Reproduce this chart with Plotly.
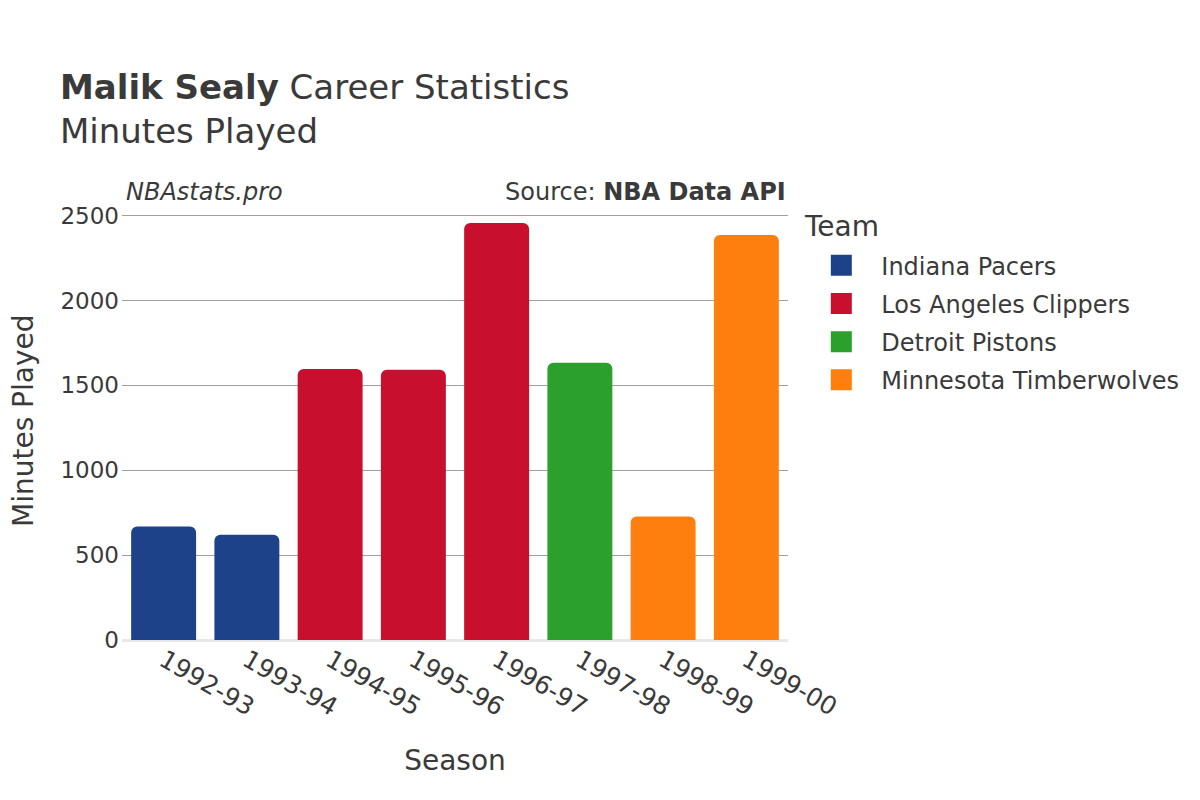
import plotly.graph_objects as go

seasons = ['1992-93', '1993-94', '1994-95', '1995-96', '1996-97', '1997-98', '1998-99', '1999-00']
teams = ['Indiana Pacers', 'Indiana Pacers', 'Los Angeles Clippers', 'Los Angeles Clippers',
         'Los Angeles Clippers', 'Detroit Pistons', 'Minnesota Timberwolves', 'Minnesota Timberwolves']
minutes = [669, 620, 1596, 1592, 2457, 1633, 728, 2386]

team_order = ['Indiana Pacers', 'Los Angeles Clippers', 'Detroit Pistons', 'Minnesota Timberwolves']
team_colors = {'Indiana Pacers': '#1d428a', 'Los Angeles Clippers': '#c8102e',
               'Detroit Pistons': '#2ca02c', 'Minnesota Timberwolves': '#ff7f0e'}

fig = go.Figure()
for t in team_order:
    xs = [s for s, tm in zip(seasons, teams) if tm == t]
    ys = [m for m, tm in zip(minutes, teams) if tm == t]
    fig.add_trace(go.Bar(x=xs, y=ys, name=t, marker_color=team_colors[t], legendgroup=t,
                         marker_cornerradius=6, marker_line_width=0, showlegend=False))
    # bigger legend swatch than the default bar one
    fig.add_trace(go.Scatter(x=[None], y=[None], mode='markers', name=t, legendgroup=t,
                             marker=dict(symbol='square', size=16, color=team_colors[t],
                                         line=dict(width=5, color=team_colors[t]))))

fig.update_layout(
    width=1200, height=800,
    font=dict(family='DejaVu Sans', color='#3a3a3a', size=20),
    title=dict(text='<b>Malik Sealy</b> Career Statistics<br>Minutes Played',
               x=0.0433, xanchor='left', y=0.886, yanchor='top', font=dict(size=34)),
    margin=dict(l=114, r=420, t=193, b=168),
    plot_bgcolor='white', paper_bgcolor='white',
    barmode='relative', bargap=0.22,
    legend=dict(font=dict(size=24), x=1.02, xanchor='left', y=0.904, yanchor='top',
                itemsizing='trace', itemwidth=70, tracegroupgap=4, traceorder='grouped'),
    annotations=[
        dict(text='Team', xref='paper', yref='paper', x=1.0205, y=0.941,
             xanchor='left', yanchor='middle', showarrow=False, font=dict(size=28)),
        dict(text='<i>NBAstats.pro</i>', xref='paper', yref='paper', x=0.003, y=1.0, yshift=-7,
             xanchor='left', yanchor='bottom', showarrow=False, font=dict(size=24)),
        dict(text='Source: <b>NBA Data API</b>', xref='paper', yref='paper', x=1.0, y=1.0, yshift=-7,
             xanchor='right', yanchor='bottom', showarrow=False, font=dict(size=24)),
        # y axis title as annotation so it can sit closer to the page edge
        dict(text='Minutes Played', xref='paper', yref='paper', x=0, xshift=-117, y=0.5,
             xanchor='left', yanchor='middle', textangle=-90, showarrow=False,
             font=dict(size=28)),
    ],
)
fig.update_xaxes(title=dict(text='Season', font=dict(size=28), standoff=29), tickangle=30,
                 categoryorder='array', categoryarray=seasons, tickfont=dict(size=25))
fig.update_yaxes(automargin=False, gridcolor='#a0a0a0', zeroline=True, zerolinecolor='#e8e8e8',
                 zerolinewidth=3, tickfont=dict(size=23), dtick=500, ticklabelstandoff=2)

fig.write_html('out.html')
